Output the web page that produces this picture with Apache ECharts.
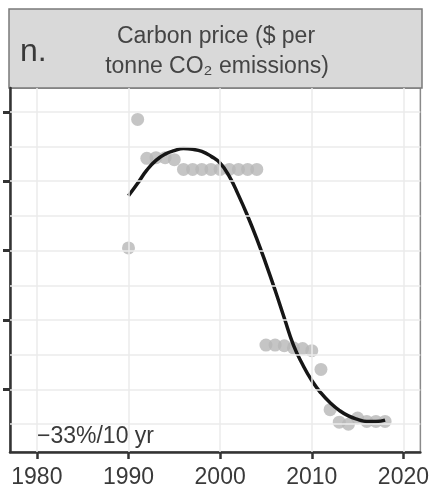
<!DOCTYPE html>
<html>
<head>
<meta charset="utf-8">
<script src="https://cdn.jsdelivr.net/npm/echarts@6/dist/echarts.min.js"></script>
<style>
  html, body { margin: 0; padding: 0; background: #fff; }
  #main { width: 432px; height: 489px; }
</style>
</head>
<body>
<div id="main"></div>
<script>
// observed carbon price (log-like units, axis unlabelled)
const years = [1990, 1991, 1992, 1993, 1994, 1995, 1996, 1997, 1998, 1999, 2000, 2001, 2002, 2003, 2004,
               2005, 2006, 2007, 2008, 2009, 2010, 2011, 2012, 2013, 2014, 2015, 2016, 2017, 2018]
const priceObs = [2.04, 3.89, 3.33, 3.34, 3.34, 3.31, 3.17, 3.17, 3.17, 3.17, 3.17, 3.17, 3.17, 3.17, 3.17,
                  0.64, 0.64, 0.63, 0.60, 0.59, 0.56, 0.29, -0.29, -0.47, -0.50, -0.41, -0.46, -0.46, -0.46]
// fitted trend
const fitYears = years
const fitValues = [2.79, 2.97, 3.16, 3.30, 3.39, 3.44, 3.47, 3.46, 3.43, 3.36, 3.26, 3.07, 2.80, 2.50, 2.17,
                   1.81, 1.43, 1.03, 0.64, 0.36, 0.13, -0.05, -0.19, -0.30, -0.38, -0.43, -0.46, -0.46, -0.44]
const xTicks = [1980, 1990, 2000, 2010, 2020]
const yTicks = [0, 1, 2, 3, 4]
const yGrid = [-0.5, 0, 0.5, 1, 1.5, 2, 2.5, 3, 3.5, 4]

const FONT = '"Liberation Sans", Arial, sans-serif'

let myChart = echarts.init(document.getElementById('main'))
let option = {
    animation: false,
    grid: {
        left: 10,
        right: 10,
        top: 88,
        bottom: 34,
        show: true,
        backgroundColor: '#fff',
        borderColor: '#8a8a8a',
        borderWidth: 1.5
    },
    xAxis: {
        type: 'value',
        min: 1977.07,
        max: 2021.85,
        axisLine: { show: true, onZero: false, lineStyle: { color: '#333', width: 2.5 } },
        axisTick: { show: true, customValues: xTicks, length: 7, lineStyle: { color: '#333', width: 2.5 } },
        axisLabel: {
            customValues: xTicks, margin: 14, fontSize: 23, color: '#3a3a3a', fontFamily: FONT,
            formatter: v => String(v)
        },
        splitLine: { show: false }
    },
    yAxis: {
        type: 'value',
        min: -0.9,
        max: 4.343,
        axisLine: { show: true, onZero: false, lineStyle: { color: '#333', width: 2.5 } },
        axisTick: { show: true, customValues: yTicks, length: 7, lineStyle: { color: '#333', width: 3 } },
        axisLabel: { show: false },
        splitLine: { show: false }
    },
    graphic: [
        {
            type: 'rect',
            shape: { x: 9, y: 9, width: 413, height: 79 },
            style: { fill: '#d9d9d9', stroke: '#7a7a7a', lineWidth: 1.5 }
        },
        {
            type: 'text', x: 20, y: 52,
            style: { text: 'n.', fontSize: 32, fontFamily: FONT, fill: '#3a3a3a', align: 'left', verticalAlign: 'middle' }
        },
        {
            type: 'text', x: 216, y: 37,
            style: { text: 'Carbon price ($ per', fontSize: 23, fontFamily: FONT, fill: '#444', align: 'center', verticalAlign: 'middle' }
        },
        {
            type: 'text', x: 217, y: 67,
            style: { text: 'tonne CO\u2082 emissions)', fontSize: 23, fontFamily: FONT, fill: '#444', align: 'center', verticalAlign: 'middle' }
        },
        {
            type: 'text', x: 37, y: 437, z: 100,
            style: { text: '\u221233%/10 yr', fontSize: 23, fontFamily: FONT, fill: '#3a3a3a', align: 'left', verticalAlign: 'middle' }
        }
    ],
    series: [
        {
            // grid lines
            type: 'scatter',
            data: [],
            z: 1,
            silent: true,
            markLine: {
                silent: true,
                symbol: 'none',
                animation: false,
                label: { show: false },
                lineStyle: { color: '#ebebeb', width: 1.5, type: 'solid' },
                data: yGrid.map(v => ({ yAxis: v })).concat(xTicks.map(v => ({ xAxis: v })))
            }
        },
        {
            type: 'scatter',
            z: 2,
            symbolSize: 13,
            itemStyle: { color: '#b6b6b6' },
            data: years.map((y, i) => [y, priceObs[i]])
        },
        {
            type: 'line',
            z: 3,
            smooth: true,
            showSymbol: false,
            lineStyle: { color: '#161616', width: 3.5 },
            data: fitYears.map((y, i) => [y, fitValues[i]])
        }
    ]
};
myChart.setOption(option)
</script>
</body>
</html>
